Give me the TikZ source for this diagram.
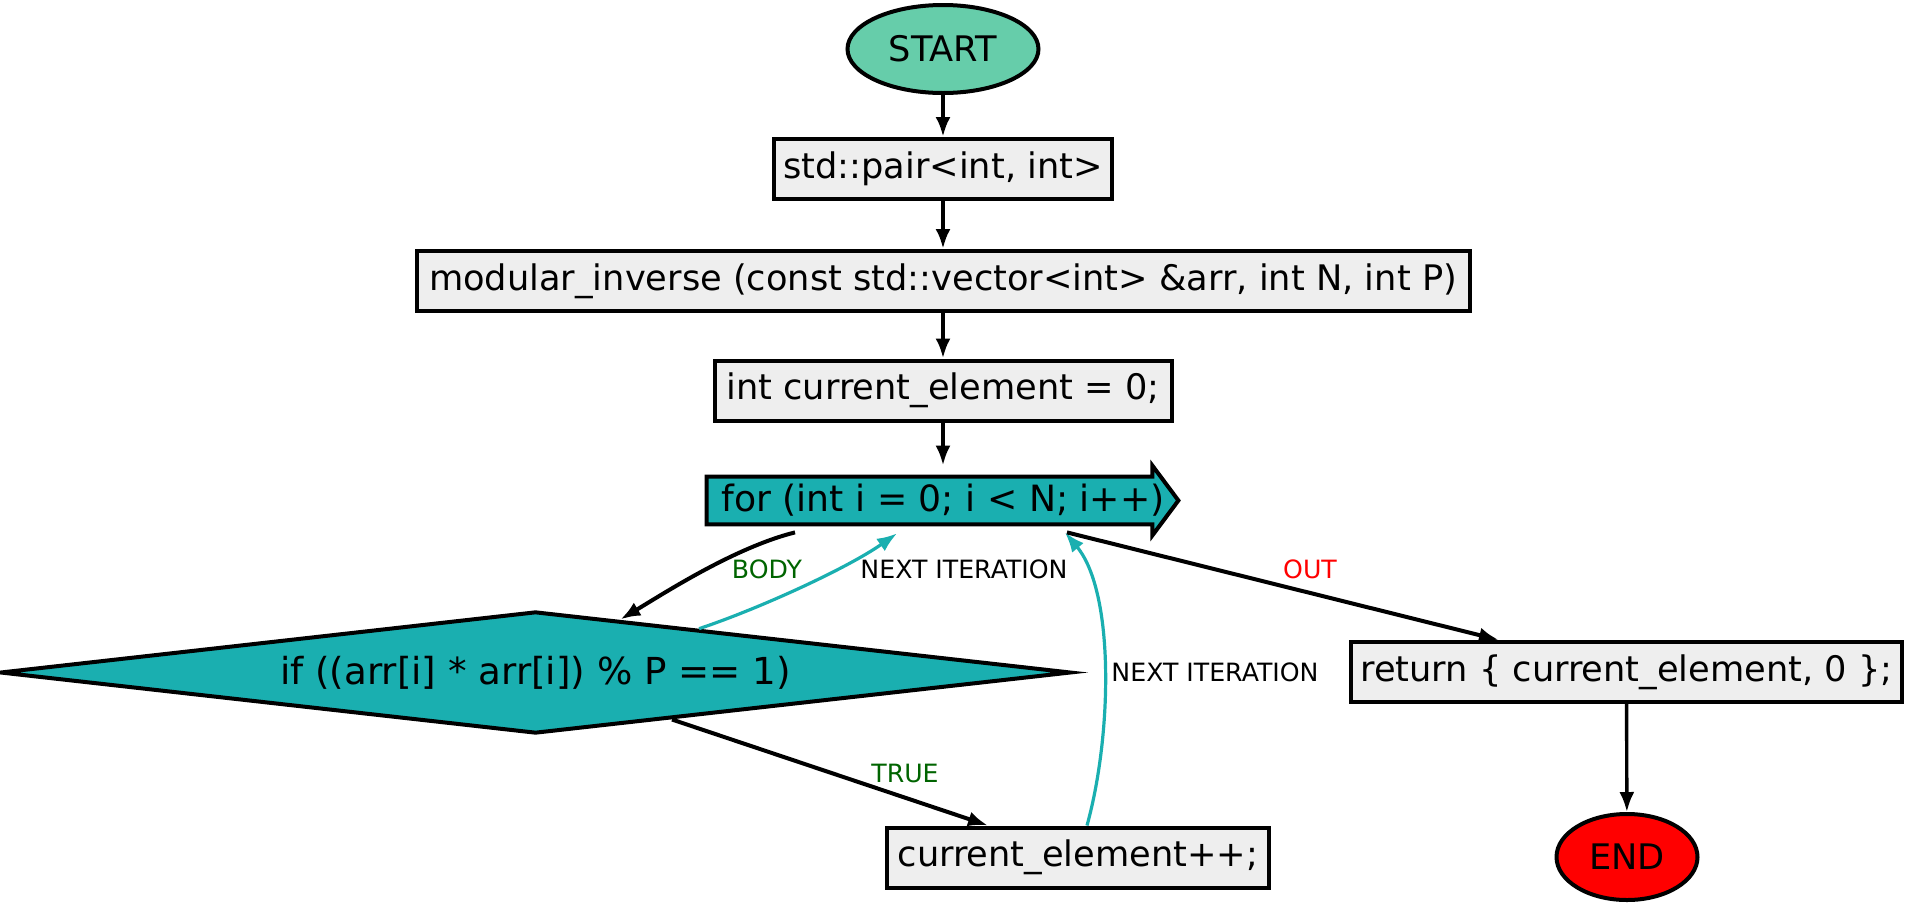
\documentclass[tikz,border=0pt]{standalone}
\usepackage{fontspec}
\setmainfont{DejaVu Sans}
\usepackage{tikz}
\usetikzlibrary{arrows.meta, shapes, backgrounds}
\tikzset{>={Latex[length=10pt, width=7.5pt]}}
\definecolor{startgreen}{RGB}{102, 205, 170}
\definecolor{loopteal}{RGB}{26, 175, 176}
\definecolor{boxgray}{RGB}{238, 238, 238}
\definecolor{truegreen}{RGB}{0, 100, 0}
\tikzset{
  stmt/.style={draw, fill=boxgray, line width=2pt, minimum height=30pt, inner sep=2pt, font=\fontsize{17.6}{20}\selectfont},
  term/.style={draw, ellipse, line width=2pt, inner sep=0pt, font=\fontsize{17.6}{20}\selectfont},
  flow/.style={->, line width=2pt},
  back/.style={->, loopteal, line width=1.6pt},
  lbl/.style={font=\fontsize{12.6}{14}\selectfont, inner sep=1pt},
}

\begin{document}
\begin{tikzpicture}[x=0.5pt, y=-0.5pt]
\useasboundingbox (0,0) rectangle (1908,906);
\node[term, fill=startgreen, minimum width=95.5pt, minimum height=44pt] (start) at (943,49) {START};
\node[stmt, minimum width=169pt] (pair) at (943,169) {std::pair<int, int>};
\node[stmt, minimum width=526.5pt] (modinv) at (943,281) {modular\_inverse (const std::vector<int> \&arr, int N, int P)};
\node[stmt, minimum width=228.5pt] (init) at (943,390.5) {int current\_element = 0;};
\node[minimum width=222.5pt, minimum height=23.5pt, inner sep=0pt, font=\fontsize{18.1}{20}\selectfont] (loop) at (929.5,500.5) {\makebox[0pt]{\hspace*{13.5pt}for (int i = 0; i < N; i++)}};
\begin{scope}[on background layer]
\filldraw[fill=loopteal, line width=2pt] (loop.north west) -- (loop.north east) -- ++(0,-11) -- ([xshift=13pt]loop.east) -- ([yshift=-5.5pt]loop.south east) -- (loop.south east) -- (loop.south west) -- cycle;
\end{scope}
\node[diamond, draw, fill=loopteal, line width=2pt, aspect=8.8, minimum width=535.5pt, minimum height=61pt, inner sep=0pt, font=\fontsize{18.6}{20}\selectfont] (cond) at (535.5,672.5) {if ((arr[i] * arr[i]) \% P == 1)};
\node[stmt, minimum width=191pt] (incr) at (1078,857.5) {current\_element++;};
\node[stmt, minimum width=275.5pt] (ret) at (1626.5,672) {return \{ current\_element, 0 \};};
\node[term, fill=red, minimum width=70.5pt, minimum height=43pt] (end) at (1627,857) {END};

% straight part
\draw[flow] (start) -- (pair);
\draw[flow] (pair) -- (modinv);
\draw[flow] (modinv) -- (init);
\draw[flow] (init.south) -- ([yshift=5.5pt]init.south |- loop.north);

% loop edges
\draw[flow] ([xshift=-67.25pt, yshift=-4pt]loop.south) .. controls +(-60,15) and +(45,-27) .. (cond.32);
\draw[back] (cond.15) .. controls +(60,-20) and +(-50,35) .. ([xshift=-16.25pt, yshift=-4.5pt]loop.south);
\draw[flow] (cond.-19) -- ([xshift=-45pt]incr.north);
\draw[back] ([xshift=4.5pt]incr.north) .. controls +(25,-90) and +(50,60) .. ([xshift=67.75pt, yshift=-4pt]loop.south);
\draw[flow] ([xshift=68.75pt, yshift=-4pt]loop.south) -- ([xshift=-63.75pt]ret.north);
\draw[->, line width=1.7pt] (ret) -- (end);

\node[lbl, text=truegreen] (lbody) at (767,569) {BODY};
\node[lbl] (lnext) at (964,569) {NEXT ITERATION};
\node[lbl, text=red] (lout) at (1310,569) {OUT};
\node[lbl] (lnexttwo) at (1215,672) {NEXT ITERATION};
\node[lbl, text=truegreen] (ltrue) at (905,773) {TRUE};
\end{tikzpicture}
\end{document}
